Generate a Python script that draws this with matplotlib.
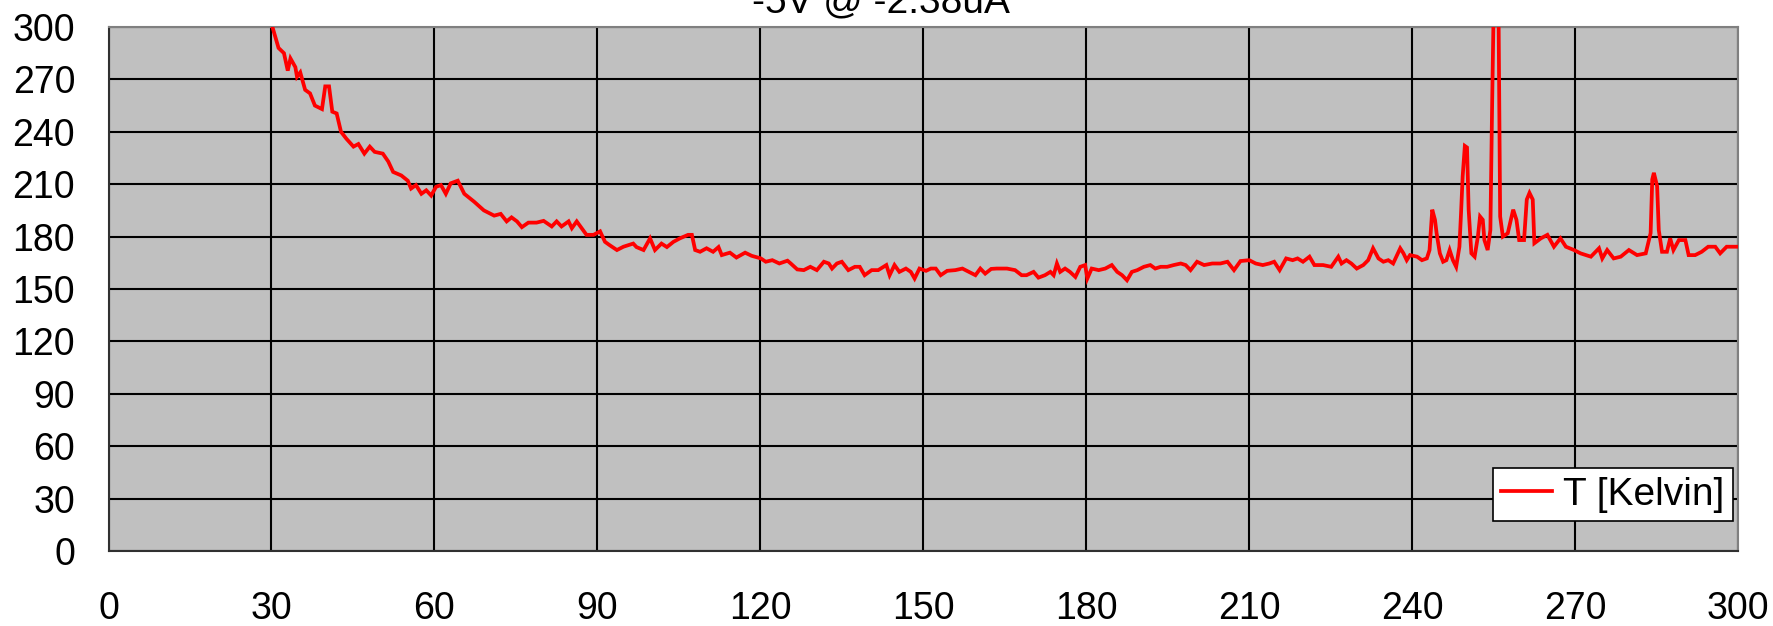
#!/usr/bin/env python3
# -*- coding: utf-8 -*-
import matplotlib
matplotlib.use('Agg')
import matplotlib.pyplot as plt

plt.rcParams['font.family'] = ['Liberation Sans', 'DejaVu Sans']

title_text = '-5V @ -2.38uA'
series_label = 'T [Kelvin]'

# time [s] and temperature [K]
time_s = [
    29.9, 30.7, 31.3, 32.3, 33.0, 33.5, 34.4, 34.7, 35.3, 36.2, 37.1, 38.0, 39.3, 39.9,
    40.6, 41.2, 42.0, 42.8, 43.8, 45.1, 46.0, 47.1, 48.1, 49.0, 50.5, 51.5, 52.4, 53.9,
    55.1, 55.7, 56.6, 57.6, 58.5, 59.4, 60.3, 61.2, 62.1, 63.0, 64.3, 65.5, 67.3, 69.1,
    71.0, 72.2, 73.3, 74.2, 75.2, 76.1, 77.3, 78.8, 80.1, 81.6, 82.5, 83.4, 84.7, 85.3,
    86.2, 87.1, 88.0, 89.3, 90.5, 91.4, 92.3, 93.6, 94.8, 96.6, 97.2, 98.5, 99.7, 100.6,
    101.8, 102.8, 104.0, 105.2, 106.7, 107.4, 108.0, 108.9, 110.1, 111.3, 112.3, 112.9,
    114.4, 115.6, 117.2, 118.4, 120.1, 121.0, 122.2, 123.5, 125.0, 125.6, 126.8, 128.0,
    129.2, 130.4, 131.7, 132.6, 133.2, 134.1, 135.0, 136.2, 137.4, 138.3, 139.2, 140.5,
    141.7, 143.2, 143.8, 144.7, 145.6, 146.8, 147.7, 148.4, 149.3, 150.5, 151.4, 152.3,
    153.2, 154.4, 155.9, 157.2, 158.4, 159.6, 160.5, 161.4, 162.5, 163.5, 165.4, 166.9,
    168.1, 169.0, 170.3, 171.2, 172.4, 173.4, 174.0, 174.6, 175.2, 176.1, 177.0, 178.0,
    178.9, 179.8, 180.2, 181.0, 182.3, 183.5, 184.7, 185.7, 186.6, 187.5, 188.4, 189.4,
    190.6, 191.8, 192.7, 193.7, 194.9, 196.1, 197.4, 198.3, 199.2, 200.4, 201.7, 203.2,
    204.7, 206.0, 207.2, 208.4, 210.0, 211.2, 212.5, 213.7, 214.6, 215.6, 216.8, 218.0,
    218.9, 219.9, 221.1, 222.0, 223.6, 225.1, 226.4, 227.0, 227.9, 228.8, 229.8, 231.0,
    231.9, 232.8, 233.8, 234.7, 235.6, 236.5, 237.8, 238.4, 239.0, 239.6, 240.9, 241.8,
    242.7, 243.2, 243.7, 244.2, 244.5, 245.1, 245.7, 246.3, 246.9, 247.5, 248.1, 248.7,
    249.0, 249.3, 249.7, 250.1, 250.4, 250.9, 251.5, 252.1, 252.5, 253.0, 253.3, 253.9,
    254.4, 254.7, 255.0, 255.9, 256.2, 256.7, 257.6, 258.6, 259.2, 259.7, 260.6, 261.1,
    261.6, 262.2, 262.5, 263.7, 264.9, 266.1, 267.3, 268.3, 269.8, 271.0, 272.9, 274.4,
    275.0, 275.9, 277.1, 278.4, 279.9, 281.4, 283.0, 283.9, 284.2, 284.5, 285.1, 285.4,
    286.0, 286.9, 287.5, 288.1, 289.1, 290.3, 290.9, 292.1, 293.3, 294.5, 295.8, 296.7,
    297.9, 299.7, 300.0,
]
temp_k = [
    303, 294.5, 288, 285, 275, 282, 277, 271.5, 274, 264, 262, 255, 253, 266,
    266, 251.5, 250.5, 240, 236, 231.5, 233, 227.5, 231.5, 228.5, 227.5, 223, 217, 215,
    212, 207.5, 209.5, 204.5, 206.5, 203.5, 208.5, 209.5, 204.5, 210.5, 212, 204.5, 200, 195,
    192, 193, 188.7, 191, 188.7, 185.4, 188, 188, 189, 185.8, 188.7, 185.8, 188.7, 184.8,
    188.7, 184.8, 181, 181, 183, 177, 175, 172.3, 174.2, 176, 174, 172.3, 179, 172.3,
    176, 174, 177, 179, 181, 181, 172.3, 171.3, 173.3, 171.3, 174, 169.4,
    170.8, 168, 170.8, 169, 167.5, 165.6, 166.5, 164.6, 166.2, 164.6, 161.2, 160.8,
    162.7, 160.8, 165.6, 164.6, 161.7, 164.6, 165.6, 160.8, 162.7, 162.7, 157.9, 160.8,
    160.8, 163.7, 157.9, 163.7, 159.8, 161.7, 159.8, 156, 161.7, 160.4, 161.7, 161.7,
    157.9, 160.4, 160.8, 161.7, 159.8, 157.9, 161.7, 158.8, 161.5, 161.7, 161.7, 160.8,
    157.9, 157.9, 159.8, 156.5, 157.9, 159.8, 157.9, 164.6, 159.8, 161.7, 159.8, 156.9,
    162.7, 163.7, 156, 161.7, 160.8, 161.7, 163.7, 159.8, 157.9, 155, 159.8, 160.8,
    162.7, 163.7, 161.7, 162.7, 162.7, 163.7, 164.6, 163.7, 160.8, 165.6, 163.7, 164.6,
    164.6, 165.6, 160.8, 166, 166.5, 164.6, 163.7, 164.6, 165.6, 160.8, 167.5, 166.5,
    167.5, 165.6, 168.5, 163.7, 163.7, 162.7, 168.5, 164.6, 166.5, 164.6, 161.7, 163.7,
    166.5, 173.3, 167.5, 165.6, 166.5, 164.6, 173.3, 170.4, 166.5, 169.4, 168.5, 166.5,
    167.5, 172.3, 195.4, 189.6, 181.9, 170.4, 165.6, 166.5, 172.3, 166.5, 162.7, 174.2,
    193.5, 214.6, 231.9, 231, 195.4, 170.4, 168.5, 180, 191.5, 189.6, 178, 172.3,
    183.8, 251, 310, 310, 191.5, 180, 181.9, 195.4, 189.6, 178, 178, 201.2,
    205, 201.2, 176.2, 179, 181, 174.2, 179, 174.2, 172.3, 170.4, 168.5, 173.3,
    167.5, 172.3, 167.5, 168.5, 172.3, 169.4, 170.4, 182, 212.7, 216.5, 208.8, 183.8,
    171.3, 171.3, 179, 172.3, 178, 178, 169.4, 169.4, 171.3, 174.2, 174.2, 170.4,
    174.2, 174.2, 174.2,
]
axis_ticks = [0, 30, 60, 90, 120, 150, 180, 210, 240, 270, 300]


def main():
    fig = plt.figure(figsize=(17.73, 6.26), dpi=100)
    ax = fig.add_axes([0.0612, 0.1198, 0.9191, 0.8371])
    ax.set_facecolor('#c0c0c0')

    ax.plot(time_s, temp_k, color='#ff0000', lw=2.7, label=series_label,
            solid_joinstyle='miter', zorder=3)

    ax.set_xlim(0, 300)
    ax.set_ylim(0, 300)
    ax.set_xticks(axis_ticks)
    ax.set_yticks(axis_ticks)
    ax.grid(True, color='black', lw=1.5, zorder=1)
    ax.set_axisbelow(True)
    ax.tick_params(axis='both', length=0, labelsize=27)
    ax.tick_params(axis='x', pad=29)
    ax.tick_params(axis='y', pad=24)

    for side in ['top', 'right']:
        ax.spines[side].set_color('#808080')
        ax.spines[side].set_linewidth(1.5)
    for side in ['left', 'bottom']:
        ax.spines[side].set_color('#303030')
        ax.spines[side].set_linewidth(1.5)

    leg = ax.legend(loc='lower right', bbox_to_anchor=(0.997, 0.057),
                    borderaxespad=0, fontsize=28, fancybox=False,
                    framealpha=1, edgecolor='black', borderpad=0.22,
                    handlelength=1.3, handletextpad=0.3)
    leg.get_frame().set_linewidth(1.2)

    # title sits mostly above the canvas, like the source picture
    fig.text(0.497, 0.980, title_text, ha='center', va='baseline', fontsize=28)

    plt.savefig('out.png', dpi=100)


if __name__ == '__main__':
    main()
